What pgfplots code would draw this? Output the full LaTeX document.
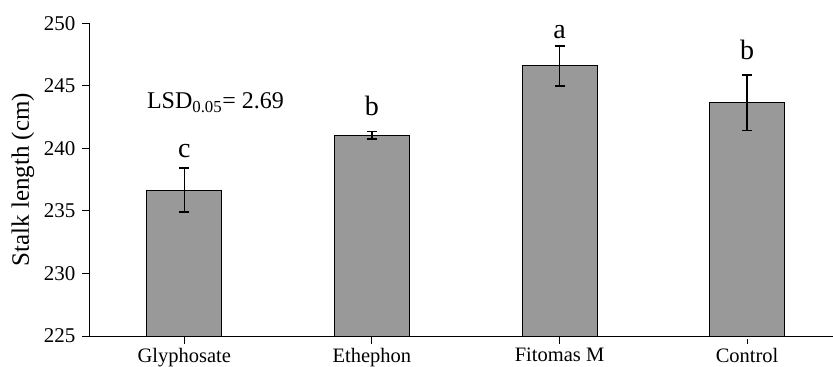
\documentclass[border=0pt]{standalone}
\usepackage{pgfplots}
\pgfplotsset{compat=1.18}
\usepackage{fontspec}
\setmainfont{Liberation Serif}
\definecolor{bargray}{RGB}{153,153,153}
\begin{document}
\fontsize{20.5bp}{24bp}\selectfont
\begin{tikzpicture}
\path[use as bounding box] (-90bp,-31bp) rectangle (743bp,336bp);
\begin{axis}[
  at={(0,0)}, anchor=south west, scale only axis,
  width=743bp, height=312.7bp,
  xmin=-0.503, xmax=3.458, ymin=225, ymax=250,
  axis x line=bottom, axis y line=left,
  axis line style={-, line width=1bp, black},
  xtick={0,1,2,3},
  xticklabels={Glyphosate,Ethephon,Fitomas M,Control},
  ytick={225,230,235,240,245,250},
  tick align=outside, major tick length=7.7bp,
  tick style={black, line width=1bp},
  xtick style={shorten >=3bp},
  xticklabel style={yshift=2.5bp},
  minor tick num=0,
  /pgf/number format/assume math mode=true,
  yticklabel style={font=\fontsize{21bp}{24bp}\selectfont},
  ylabel={Stalk length (cm)},
  ylabel style={font=\fontsize{25bp}{30bp}\selectfont, at={(axis description cs:-0.0902,0.5)}, anchor=center},
  clip=false,
]
\addplot[ybar, bar width=75bp, fill=bargray, draw=black, line width=1bp,
  error bars/.cd, y dir=both, y explicit,
  error bar style={line width=1.6bp, black},
  error mark options={rotate=90, mark size=5bp, line width=1.6bp, black}]
  coordinates {(0,236.65) +- (0,1.76) (1,241.05) +- (0,0.3) (2,246.59) +- (0,1.6) (3,243.65) +- (0,2.22)};
\node[anchor=base, inner sep=0pt, font=\fontsize{28bp}{30bp}\selectfont] at (axis cs:0,239.31) {c};
\node[anchor=base, inner sep=0pt, font=\fontsize{28bp}{30bp}\selectfont] at (axis cs:1,242.59) {b};
\node[anchor=base, inner sep=0pt, font=\fontsize{28bp}{30bp}\selectfont] at (axis cs:2,248.82) {a};
\node[anchor=base, inner sep=0pt, font=\fontsize{28bp}{30bp}\selectfont] at (axis cs:3,247.07) {b};
\node[anchor=base west, inner sep=0pt, font=\fontsize{24bp}{28bp}\selectfont] at (axis cs:-0.2,243.17) {LSD\textsubscript{0.05}= 2.69};
\end{axis}
\end{tikzpicture}
\end{document}
